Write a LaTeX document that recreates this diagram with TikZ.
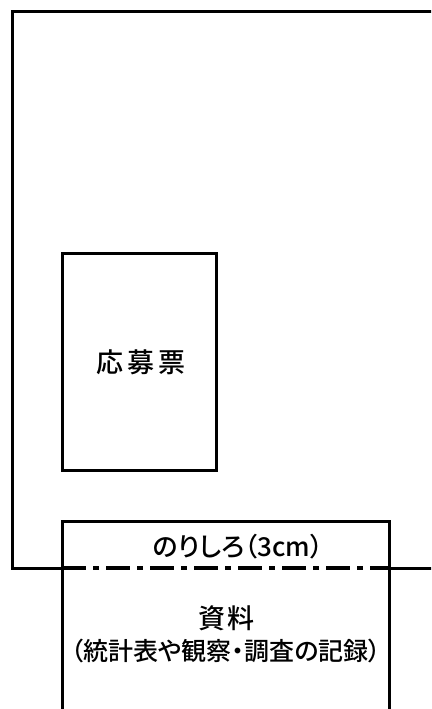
\documentclass[tikz,border=0pt]{standalone}
\usepackage{fontspec}
\newfontfamily\jpfont{Noto Sans CJK JP Medium}
\newfontfamily\jppfont[RawFeature=+palt]{Noto Sans CJK JP Medium}
\usetikzlibrary{positioning}

\begin{document}
\begin{tikzpicture}[
    x=1pt, y=-1pt,
    font=\jpfont,
    % 樣式
    sheet_line/.style={
        draw=black, line width=3pt
    },
    fold_line/.style={
        draw=black, line width=4.5pt,
        dash pattern=on 24pt off 7pt on 6pt off 7pt
    },
    form_box/.style={
        draw=black, line width=3pt, minimum width=154pt, minimum height=217pt,
        inner sep=0pt
    },
    title_text/.style={
        font=\jpfont\fontsize{27}{31}\selectfont, inner sep=0pt
    },
    small_text/.style={
        font=\jppfont\fontsize{25}{29}\selectfont, inner sep=0pt
    }
]
    \useasboundingbox (0,0) rectangle (431,709);
    \clip (0,0) rectangle (431,709);

    % --- 1. SHEET (Top, open to the right) ---
    \coordinate (sheet_tr) at (435,12);
    \coordinate (sheet_bl) at (12,568);
    \coordinate (sheet_br) at (435,568);
    \draw[sheet_line] (sheet_tr) -- (12,12) -- (sheet_bl) -- (62,568);
    \draw[sheet_line] (388,568) -- (sheet_br);

    % --- 2. ENTRY FORM ---
    \node[form_box] (entry_form) at (139,362) {};
    \node[title_text] (entry_label) at (141,362) {応\hspace{4pt}募\hspace{4pt}票};

    % --- 3. MATERIAL SHEET (Bottom, open below) ---
    \coordinate (mat_bl) at (62,712);
    \coordinate (mat_br) at (389,712);
    \draw[sheet_line] (mat_bl) -- (62,521) -- (389,521) -- (mat_br);
    \draw[fold_line] (62,568) -- (389,568);

    \node[small_text, font=\jppfont\fontsize{26}{30}\selectfont] (glue_label) at (238,547) {のりしろ（3cm）};
    \node[title_text] (mat_label) at (226,618) {資\hspace{2pt}料};
    \node[small_text, below=8pt of mat_label] (mat_note) {（統計表や観察・調査の記録）};

\end{tikzpicture}
\end{document}
